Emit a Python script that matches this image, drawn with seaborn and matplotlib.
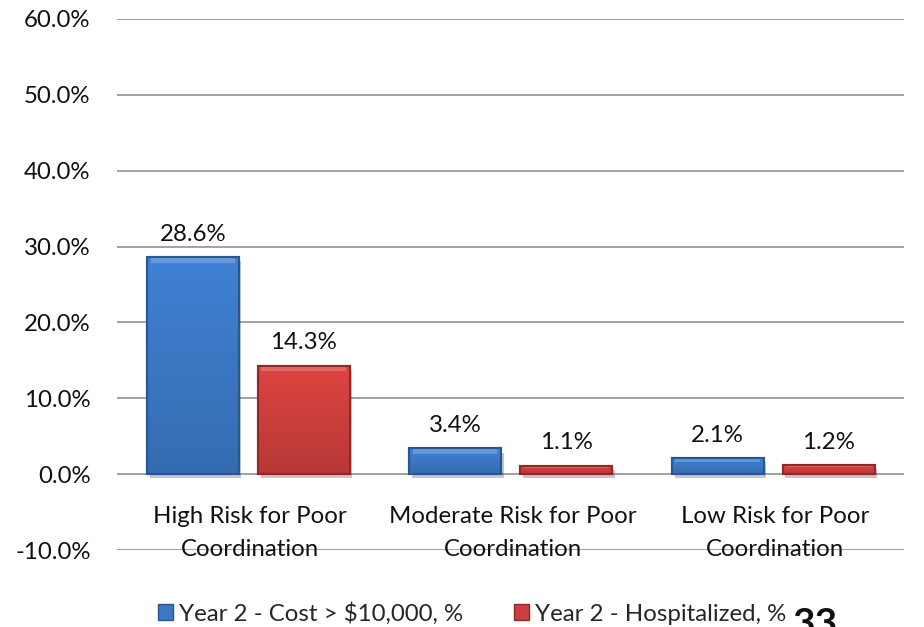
import numpy as np
import pandas as pd
import matplotlib.pyplot as plt
import matplotlib.patheffects as pe
from matplotlib.patches import Rectangle
import seaborn as sns

# ---------------------------------------
# Data
# ---------------------------------------
CATEGORIES = [
    "High Risk for Poor\nCoordination",
    "Moderate Risk for Poor\nCoordination",
    "Low Risk for Poor\nCoordination",
]
SERIES = ["Year 2 - Cost > $10,000, %", "Year 2 - Hospitalized, %"]
COST_OVER_10K = [28.6, 3.4, 2.1]
HOSPITALIZED = [14.3, 1.1, 1.2]
Y_TICKS = [-10, 0, 10, 20, 30, 40, 50, 60]
SLIDE_NUMBER = "33"

COLORS = ["#3B78C4", "#CC3F3C"]
EDGE_COLORS = ["#2A5690", "#902828"]

sns.set_theme(style="white")
plt.rcParams["font.family"] = ["Lato", "DejaVu Sans"]

FS = 17.3

df = pd.DataFrame({
    "category": CATEGORIES * 2,
    "series": [SERIES[0]] * 3 + [SERIES[1]] * 3,
    "value": COST_OVER_10K + HOSPITALIZED,
})


def shade_bars(ax, container, base, edge):
    """Give each bar a soft vertical gradient + darker rim like the Office bevel."""
    for bar in container:
        x, y = bar.get_x(), bar.get_y()
        w, h = bar.get_width(), bar.get_height()
        bar.set_facecolor(base)
        bar.set_edgecolor(edge)
        bar.set_linewidth(1.5)
        bar.set_path_effects([pe.SimplePatchShadow(offset=(2, -3), alpha=0.25), pe.Normal()])
        grad = np.linspace(1.08, 0.9, 50).reshape(-1, 1)
        rgb = np.array(plt.matplotlib.colors.to_rgb(base))
        img = np.clip(grad[..., None] * rgb[None, None, :], 0, 1)
        im = ax.imshow(img, extent=(x, x + w, y, y + h), aspect="auto",
                       origin="upper", zorder=bar.get_zorder() + 0.1)
        im.set_clip_path(bar)
        # light top rim
        rim = min(0.7, h * 0.25)
        ax.add_patch(Rectangle((x + w * 0.04, y + h - rim), w * 0.92, rim * 0.8,
                               facecolor="white", alpha=0.2, lw=0,
                               zorder=bar.get_zorder() + 0.2))
        ax.add_patch(Rectangle((x, y), w, h, facecolor="none", edgecolor=edge,
                               lw=1.5, zorder=bar.get_zorder() + 0.3))


fig = plt.figure(figsize=(9.24, 6.27), dpi=100)
ax = fig.add_axes([0.1266, 0.1228, 0.8522, 0.8469])

sns.barplot(data=df, x="category", y="value", hue="series", order=CATEGORIES,
            hue_order=SERIES, palette=COLORS, width=0.845, gap=0.172,
            legend=False, ax=ax, zorder=3)

for cont, c, e in zip(ax.containers, COLORS, EDGE_COLORS):
    shade_bars(ax, cont, c, e)
    ax.bar_label(cont, labels=[f"{v:.1f}%" for v in cont.datavalues],
                 padding=9, fontsize=FS, color="#111111", zorder=6)

ax.set_ylim(-10, 60)
ax.set_xlim(-0.5, len(CATEGORIES) - 0.5)
ax.set_yticks(Y_TICKS)
ax.set_yticklabels([f"{t:.1f}%" for t in Y_TICKS], fontsize=FS, color="#111111")
ax.tick_params(axis="y", length=0, pad=19)
ax.set_xticks([])
ax.set_xlabel("")
ax.set_ylabel("")
ax.grid(axis="y", color="#888888", linewidth=1.1)
ax.set_axisbelow(True)
sns.despine(ax=ax, left=True, bottom=True)

for i, cat in enumerate(CATEGORIES):
    ax.text(i + 0.008, -7.75, cat, ha="center", va="center", multialignment="center",
            fontsize=FS, color="#111111", linespacing=1.7, zorder=5)

handles = [Rectangle((0, 0), 1, 1, facecolor=c, edgecolor=e, lw=1)
           for c, e in zip(COLORS, EDGE_COLORS)]
fig.legend(handles, SERIES, loc="center", bbox_to_anchor=(0.511, 0.022), ncol=2,
           frameon=False, fontsize=FS, handlelength=0.65, handleheight=0.65,
           handletextpad=0.25, columnspacing=2.1)

fig.text(0.858, -0.014, SLIDE_NUMBER, fontsize=28, fontweight="bold",
         ha="left", va="baseline", color="#111111")

fig.savefig("out.png", dpi=100)
